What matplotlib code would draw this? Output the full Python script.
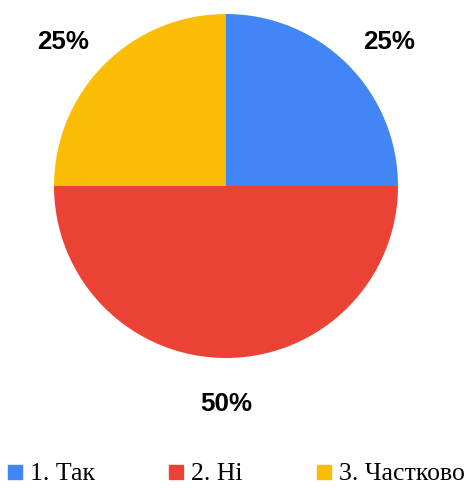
import matplotlib
matplotlib.use("Agg")
import numpy as np
import matplotlib.pyplot as plt
from matplotlib.lines import Line2D
from matplotlib.font_manager import FontProperties

categories = ["1. Так", "2. Ні", "3. Частково"]
values = [25, 50, 25]
colors = ["#4285F4", "#EA4335", "#FBBC04"]

W, H = 467, 488
fig = plt.figure(figsize=(W / 100, H / 100), dpi=100)
cx, cy, r = 226, 186, 172
ax = fig.add_axes([(cx - r) / W, (H - cy - r) / H, 2 * r / W, 2 * r / H])

total = sum(values)
wedges, _ = ax.pie(values, colors=colors, startangle=90, counterclock=False)
for w, v in zip(wedges, values):
    th = np.deg2rad((w.theta1 + w.theta2) / 2)
    s, c = np.sin(th), np.cos(th)
    if abs(c) > 1e-6 and abs(s) > 1e-6:
        th = th - np.sign(s * c) * np.deg2rad(3.5)
    d = 1.265
    ax.text(d * np.cos(th), d * np.sin(th), f"{v / total * 100:.0f}%",
            ha="center", va="center", fontsize=18.7, fontweight="bold",
            family="Liberation Sans", color="black")
ax.set_xlim(-1, 1)
ax.set_ylim(-1, 1)

handles = [Line2D([], [], marker="s", linestyle="none", markersize=10,
                  markerfacecolor=c, markeredgecolor=c) for c in colors]
fp = FontProperties(family="Liberation Serif", size=18.5)
fig.legend(handles, categories, loc="center", bbox_to_anchor=(236.5 / W, 14 / H),
           ncol=3, frameon=False, prop=fp,
           handlelength=0.55, handletextpad=0.3, columnspacing=2.9, borderpad=0,
           borderaxespad=0)

fig.savefig("out.png", dpi=100)
